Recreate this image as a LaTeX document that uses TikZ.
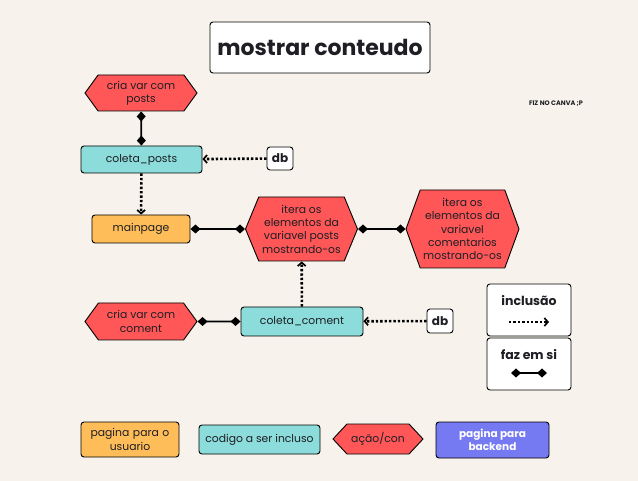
\documentclass[tikz,border=0pt]{standalone}
\usepackage{fontspec}
\setmainfont{Poppins}
\usetikzlibrary{shapes.symbols,arrows.meta}

\definecolor{fundo}{RGB}{247,243,236}
\definecolor{vermelho}{RGB}{255,87,87}
\definecolor{turquesa}{RGB}{139,220,218}
\definecolor{laranja}{RGB}{255,189,89}
\definecolor{roxo}{RGB}{118,122,242}
\definecolor{tinta}{RGB}{30,30,36}

\begin{document}
\begin{tikzpicture}[x=1pt, y=-1pt,
  font=\fontsize{10.8}{13.3}\selectfont, text=tinta,
  caixa/.style={draw, rounded corners=3pt, line width=0.9pt, align=center, inner sep=2pt},
  pagina/.style={caixa, fill=laranja},
  codigo/.style={caixa, fill=turquesa},
  acao/.style={draw, line width=0.9pt, fill=vermelho, align=center, signal, signal to=east and west, inner sep=1pt},
  faz/.style={line width=1.8pt, {Diamond[length=10pt,width=9pt]}-{Diamond[length=10pt,width=9pt]}},
  inclui/.style={line width=2.6pt, dash pattern=on 2.4pt off 2pt, -{Straight Barb[length=3.5pt,width=8pt,line width=1.7pt]}},
]
\fill[fundo] (0,0) rectangle (638,481);
\useasboundingbox (0,0) rectangle (638,481);
\node[caixa, fill=white, minimum width=220, minimum height=51, font=\fontsize{22}{26}\selectfont\bfseries] (titulo) at (320,47.5) {mostrar conteudo};
\node[font=\fontsize{6.5}{8}\selectfont\bfseries] (canva) at (556,104) {FIZ NO CANVA ;P};
\node[acao, signal pointer angle=108, minimum width=112, minimum height=36] (cria_posts) at (141,93) {cria var com\\posts};
\node[codigo, minimum width=121, minimum height=27] (coleta_posts) at (141.5,159.5) {coleta\_posts};
\draw[faz] (cria_posts) -- (coleta_posts);
\node[caixa, fill=white, minimum width=26, minimum height=23, font=\fontsize{12}{14}\selectfont\bfseries] (db_posts) at (280,158.5) {db};
\draw[inclui] (db_posts) -- (coleta_posts);
\node[pagina, minimum width=98, minimum height=28] (mainpage) at (141,229) {mainpage};
\draw[inclui] (coleta_posts) -- (mainpage);
\node[acao, signal pointer angle=135, minimum width=112, minimum height=64] (itera_posts) at (301.5,229) {itera os\\elementos da\\variavel posts\\mostrando-os};
\draw[faz] (mainpage) -- (itera_posts);
\node[acao, signal pointer angle=140, minimum width=113, minimum height=78] (itera_coment) at (462.5,229) {itera os\\elementos da\\variavel\\comentarios\\mostrando-os};
\draw[faz] (itera_posts) -- (itera_coment);
\node[acao, signal pointer angle=108, minimum width=112, minimum height=37] (cria_coment) at (141,321.5) {cria var com\\coment};
\node[codigo, minimum width=122, minimum height=29] (coleta_coment) at (302,321.5) {coleta\_coment};
\draw[inclui] (coleta_coment) -- (itera_posts);
\draw[faz] (cria_coment) -- (coleta_coment);
\node[caixa, fill=white, minimum width=26, minimum height=24, font=\fontsize{12}{14}\selectfont\bfseries] (db_coment) at (440,321) {db};
\draw[inclui] (db_coment) -- (coleta_coment);
% legenda
\node[caixa, fill=white, minimum width=84, minimum height=52] (leg_inclui) at (529,310) {};
\node[font=\fontsize{12.5}{15}\selectfont\bfseries] (txt_inclui) at (529,301) {inclusão};
\coordinate (ini_inclui) at (509,322);
\coordinate (fim_inclui) at (549,322);
\draw[inclui] (ini_inclui) -- (fim_inclui);
\node[caixa, fill=white, minimum width=84, minimum height=52] (leg_faz) at (529,364) {};
\node[font=\fontsize{12.5}{15}\selectfont\bfseries] (txt_faz) at (529,355) {faz em si};
\coordinate (ini_faz) at (511,373);
\coordinate (fim_faz) at (547,373);
\draw[faz] (ini_faz) -- (fim_faz);
\node[pagina, minimum width=98, minimum height=35, text width=94] (leg_pagina) at (130,439.5) {pagina para o\\usuario};
\node[codigo, minimum width=121, minimum height=29] (leg_codigo) at (259.5,439.5) {codigo a ser incluso};
\node[acao, signal pointer angle=94, minimum width=90, minimum height=30] (leg_acao) at (378,439) {ação/con};
\node[caixa, fill=roxo, text=white, font=\fontsize{10.5}{13}\selectfont\bfseries, minimum width=113, minimum height=36] (leg_backend) at (492.5,440) {pagina para\\backend};
\end{tikzpicture}
\end{document}
